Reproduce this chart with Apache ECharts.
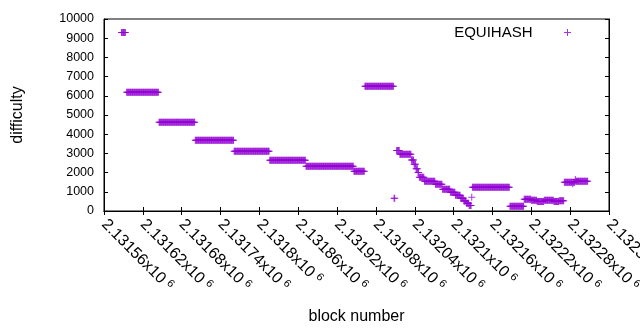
<!DOCTYPE html>
<html>
<head>
<meta charset="utf-8">
<script src="https://cdn.jsdelivr.net/npm/echarts@6/dist/echarts.min.js"></script>
<style>
html, body { margin: 0; padding: 0; background: #fff; }
#main { width: 640px; height: 330px; }
</style>
</head>
<body>
<div id="main"></div>
<script>
// difficulty held constant over runs of blocks: first block, last block, value
var runStart = [2131587, 2131595, 2131645, 2131701, 2131761, 2131816, 2131872, 2131946, 2131963, 2132008,
                2132012, 2132017, 2132035, 2132039, 2132042, 2132045, 2132047, 2132055, 2132072, 2132083,
                2132095, 2132103, 2132111, 2132116, 2132120, 2132124, 2132128, 2132129, 2132187, 2132209,
                2132220, 2132229, 2132240, 2132255, 2132263, 2132271, 2132284, 2132285, 2132288, 2132289];
var runEnd   = [2131593, 2131644, 2131700, 2131760, 2131815, 2131871, 2131945, 2131962, 2132007, 2132009,
                2132016, 2132034, 2132038, 2132041, 2132044, 2132046, 2132054, 2132071, 2132082, 2132094,
                2132102, 2132110, 2132115, 2132119, 2132123, 2132127, 2132128, 2132186, 2132208, 2132219,
                2132228, 2132239, 2132254, 2132262, 2132270, 2132283, 2132284, 2132287, 2132288, 2132307];
var runValue = [9300, 6180, 4620, 3680, 3110, 2640, 2330, 2070, 6500, 660,
                3150, 2950, 2650, 2430, 2200, 2000, 1760, 1550, 1390, 1130,
                975, 820, 660, 520, 400, 280, 710, 1240, 245, 610,
                560, 490, 560, 490, 540, 1500, 1420, 1500, 1640, 1550];

var xMin = 2131560, xMax = 2132340, xStep = 60;
var yMin = 0, yMax = 10000, yStep = 1000;

var points = [];
for (var i = 0; i < runStart.length; i++) {
    for (var b = runStart[i]; b <= runEnd[i]; b++) {
        points.push([b, runValue[i]]);
    }
}

var plus = 'path://M3,0h1v3h3v1h-3v3h-1v-3h-3v-1h3z';
var font = 'Liberation Sans';

var myChart = echarts.init(document.getElementById('main'));
var option = {
    animation: false,
    textStyle: { fontFamily: font },
    grid: {
        left: 104, right: 31, top: 19, bottom: 119,
        outerBoundsMode: 'none',
        show: true, borderColor: '#000', borderWidth: 1
    },
    legend: {
        data: ['EQUIHASH'],
        right: 64, top: 20,
        align: 'right',
        icon: plus,
        itemWidth: 60, itemHeight: 7,
        textStyle: { fontFamily: font, fontSize: 15, color: '#000' }
    },
    xAxis: [{
        type: 'value', min: xMin, max: xMax, interval: xStep,
        name: 'block number', nameLocation: 'middle', nameGap: 98,
        nameTextStyle: { fontFamily: font, fontSize: 16, color: '#000' },
        axisLine: { lineStyle: { color: '#000', width: 1 } },
        axisTick: { inside: true, length: 4, lineStyle: { color: '#000' } },
        splitLine: { show: false },
        axisLabel: {
            rotate: -45, margin: 11, color: '#000', showMaxLabel: true,
            formatter: function (v) {
                return '{a|' + parseFloat((v / 1e6).toFixed(5)) + 'x10}{b|6}';
            },
            rich: {
                a: { fontFamily: font, fontSize: 16, color: '#000', lineHeight: 18 },
                b: { fontFamily: font, fontSize: 11, color: '#000', lineHeight: 10, verticalAlign: 'top', padding: [0, 0, 0, 4] }
            }
        }
    }, {
        type: 'value', position: 'top', min: xMin, max: xMax, interval: xStep,
        axisLine: { show: true, lineStyle: { color: '#000' } },
        axisTick: { inside: true, length: 4, lineStyle: { color: '#000' } },
        axisLabel: { show: false },
        splitLine: { show: false }
    }],
    yAxis: [{
        type: 'value', min: yMin, max: yMax, interval: yStep,
        name: 'difficulty', nameLocation: 'middle', nameGap: 78, nameRotate: 90,
        nameTextStyle: { fontFamily: font, fontSize: 16, color: '#000' },
        axisLine: { show: true, lineStyle: { color: '#000', width: 1 } },
        axisTick: { inside: true, length: 4, lineStyle: { color: '#000' } },
        splitLine: { show: false },
        axisLabel: {
            margin: 10, fontFamily: font, fontSize: 12.5, color: '#000',
            formatter: function (v) { return String(v); }
        }
    }, {
        type: 'value', position: 'right', min: yMin, max: yMax, interval: yStep,
        axisLine: { show: true, lineStyle: { color: '#000' } },
        axisTick: { inside: true, length: 4, lineStyle: { color: '#000' } },
        axisLabel: { show: false },
        splitLine: { show: false }
    }],
    series: [{
        name: 'EQUIHASH',
        type: 'scatter',
        xAxisIndex: 0, yAxisIndex: 0,
        symbol: plus,
        symbolSize: 7,
        itemStyle: { color: '#9400d3' },
        data: points
    }]
};
myChart.setOption(option);
</script>
</body>
</html>
